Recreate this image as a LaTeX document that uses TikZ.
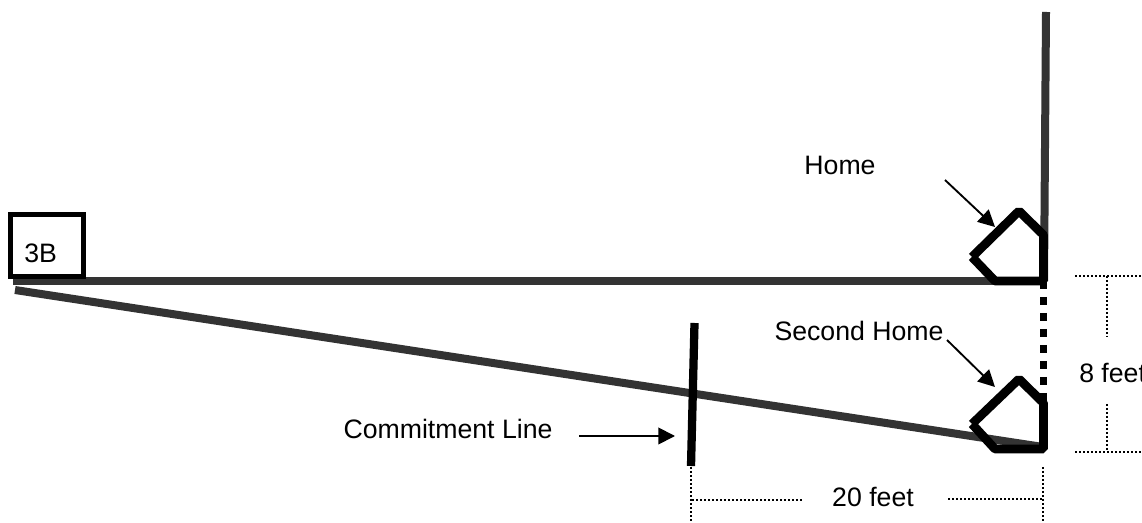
\documentclass[tikz,border=0pt]{standalone}
\usepackage{fontspec}
\setmainfont{Liberation Sans}
\usetikzlibrary{arrows.meta}
\tikzset{
  px/.style={x=0.75pt,y=-0.75pt},
  lbl/.style={inner sep=0pt,font=\fontsize{20}{24}\selectfont,text=black},
  baseline/.style={draw=black!80,line width=6pt},
  plate/.style={draw=black,line width=6.6pt,line join=bevel},
  thick line/.style={draw=black,line width=6.2pt},
  measure/.style={draw=black,line width=2pt,dash pattern=on 1.5pt off 1.5pt},
  pointer/.style={draw=black,line width=1.4pt,-{Triangle[length=12.5pt,width=12.5pt]}},
}
\begin{document}
\begin{tikzpicture}[px]
\useasboundingbox (0,0) rectangle (1142,523);
% named points
\coordinate (foul1) at (13,281);
\coordinate (foul2) at (15,290);
\coordinate (homecorner) at (1043,281);
\coordinate (home2corner) at (1043,447);
\coordinate (top) at (1046,12);
\coordinate (cTop) at (694.5,323);
\coordinate (cBot) at (691,466);
% base lines
\draw[baseline] (foul1) -- (homecorner);
\draw[baseline] (foul2) -- (home2corner);
\draw[baseline] (top) -- (1044,281);
% home plates
\draw[plate] (972,257) -- (1019,211) -- (1043.5,235) -- (1043.5,281) -- (995,281) -- (972,257);
\draw[plate] (972,424) -- (1019,379) -- (1043.5,403) -- (1043.5,449) -- (995,449) -- (972,424);
% dashed between plates
\draw[draw=black,line width=5.8pt,dash pattern=on 6pt off 6pt] (1043.5,281) -- (1043.5,402);
% commitment line
\draw[thick line] (cTop) -- (cBot);
% 3B box
\node[draw=black,line width=3.8pt,outer sep=0pt,minimum width=54.75pt,minimum height=46.5pt,inner sep=0pt,anchor=north west] (third) at (10.5,214.5) {};
\node[lbl,anchor=west] (thirdtxt) at (24,253) {3B};
% labels
\node[lbl] (home) at (840,165) {Home};
\node[lbl] (second) at (859,331) {Second Home};
\node[lbl] (commit) at (448,429) {Commitment Line};
\node[lbl,anchor=west] (eight) at (1079,373) {8 feet};
\node[lbl] (twenty) at (873,497) {20 feet};
% pointers
\coordinate (h1s) at (945,180);
\coordinate (h1e) at (995,227);
\coordinate (h2s) at (947,340);
\coordinate (h2e) at (995,387);
\coordinate (c1s) at (579,436);
\coordinate (c1e) at (675,436);
\draw[pointer] (h1s) -- (h1e);
\draw[pointer] (h2s) -- (h2e);
\draw[pointer] (c1s) -- (c1e);
% dimension lines
\coordinate (dA) at (691,467);
\coordinate (dB) at (691,523);
\coordinate (dC) at (692,500);
\coordinate (dD) at (802,500);
\coordinate (dE) at (1043,467);
\coordinate (dF) at (1043,523);
\coordinate (dG) at (948,499);
\coordinate (dH) at (1043,499);
\coordinate (rA) at (1075,276);
\coordinate (rB) at (1142,276);
\coordinate (rC) at (1075,452);
\coordinate (rD) at (1142,452);
\coordinate (rE) at (1107,276);
\coordinate (rF) at (1107,337);
\coordinate (rG) at (1107,404);
\coordinate (rH) at (1107,452);
\foreach \a/\b in {dA/dB,dC/dD,dE/dF,dG/dH,rA/rB,rC/rD,rE/rF,rG/rH}
  \draw[measure] (\a) -- (\b);
\end{tikzpicture}
\end{document}
